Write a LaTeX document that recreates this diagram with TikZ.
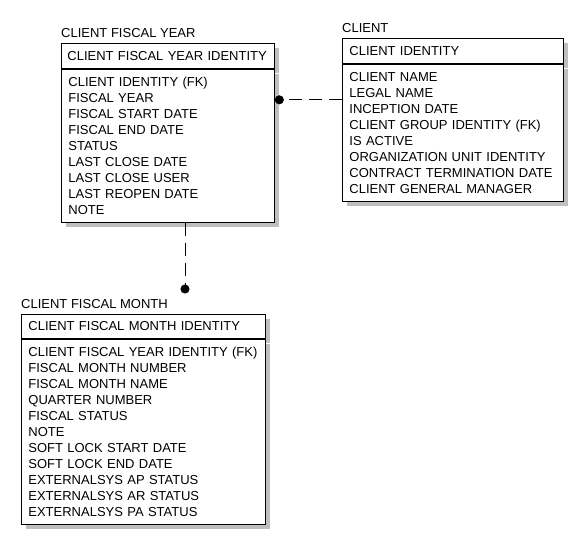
\documentclass[tikz,border=0pt]{standalone}
\usepackage{fontspec}
\setmainfont{Liberation Sans}
\usetikzlibrary{shapes, arrows.meta, positioning, shadows, calc}
\tikzset{
	entkey/.style={draw, fill=white, line width=0.8pt, anchor=north west,
		text width=#1, inner xsep=7pt, inner ysep=0pt, align=left,
		minimum height=25pt,
		drop shadow={shadow xshift=5pt, shadow yshift=-5pt, fill=black!25, opacity=1}},
	enttitle/.style={inner sep=0pt, anchor=south west},
	relline/.style={line width=0.8pt, dash pattern=on 13pt off 7pt, -{Circle[length=9pt]}}
}
\begin{document}
\begin{tikzpicture}[x=1pt, y=-1pt, font=\fontsize{13}{16}\selectfont]
	\useasboundingbox (0,0) rectangle (583,543);
	% client fiscal year
	\node[entkey=201pt, inner xsep=6pt] (yearkey) at (61,43) {\mbox{CLIENT FISCAL YEAR IDENTITY}};
	\node[entkey=199pt,
	minimum height=153pt,
	below=0pt of yearkey] (yearattr) {
	CLIENT IDENTITY (FK)\\
	FISCAL YEAR\\
	FISCAL START DATE\\
	FISCAL END DATE\\
	STATUS\\
	LAST CLOSE DATE\\
	LAST CLOSE USER\\
	LAST REOPEN DATE\\
	NOTE
	};
	\node[enttitle, above right=5pt and 0pt of yearkey.north west] (yeartitle) {CLIENT FISCAL YEAR};
	% client
	\node[entkey=207pt] (clientkey) at (342,38) {CLIENT IDENTITY};
	\node[entkey=207pt,
	minimum height=137pt,
	below=0pt of clientkey] (clientattr) {
	CLIENT NAME\\
	LEGAL NAME\\
	INCEPTION DATE\\
	CLIENT GROUP IDENTITY (FK)\\
	IS ACTIVE\\
	ORGANIZATION UNIT IDENTITY\\
	CONTRACT TERMINATION DATE\\
	CLIENT GENERAL MANAGER
	};
	\node[enttitle, above right=5pt and 0pt of clientkey.north west] (clienttitle) {CLIENT};
	% client fiscal month
	\node[entkey=230pt, minimum height=24pt] (monthkey) at (21,314) {CLIENT FISCAL MONTH IDENTITY};
	\node[entkey=230pt,
	minimum height=185pt,
	below=0pt of monthkey] (monthattr) {
	CLIENT FISCAL YEAR IDENTITY (FK)\\
	FISCAL MONTH NUMBER\\
	FISCAL MONTH NAME\\
	QUARTER NUMBER\\
	FISCAL STATUS\\
	NOTE\\
	SOFT LOCK START DATE\\
	SOFT LOCK END DATE\\
	EXTERNALSYS AP STATUS\\
	EXTERNALSYS AR STATUS\\
	EXTERNALSYS PA STATUS
	};
	\node[enttitle, above right=5pt and 0pt of monthkey.north west] (monthtitle) {CLIENT FISCAL MONTH};
	% Relationships
	\coordinate (yearlink) at ($(yearattr.north east)+(0,31)$);
	\coordinate (monthlink) at ($(monthkey.north west)+(164,-20.5)$);
	\draw[relline] (clientattr.west |- yearlink) -- (yearlink);
	\draw[relline] (yearattr.south -| monthlink) -- (monthlink);
\end{tikzpicture}
\end{document}
